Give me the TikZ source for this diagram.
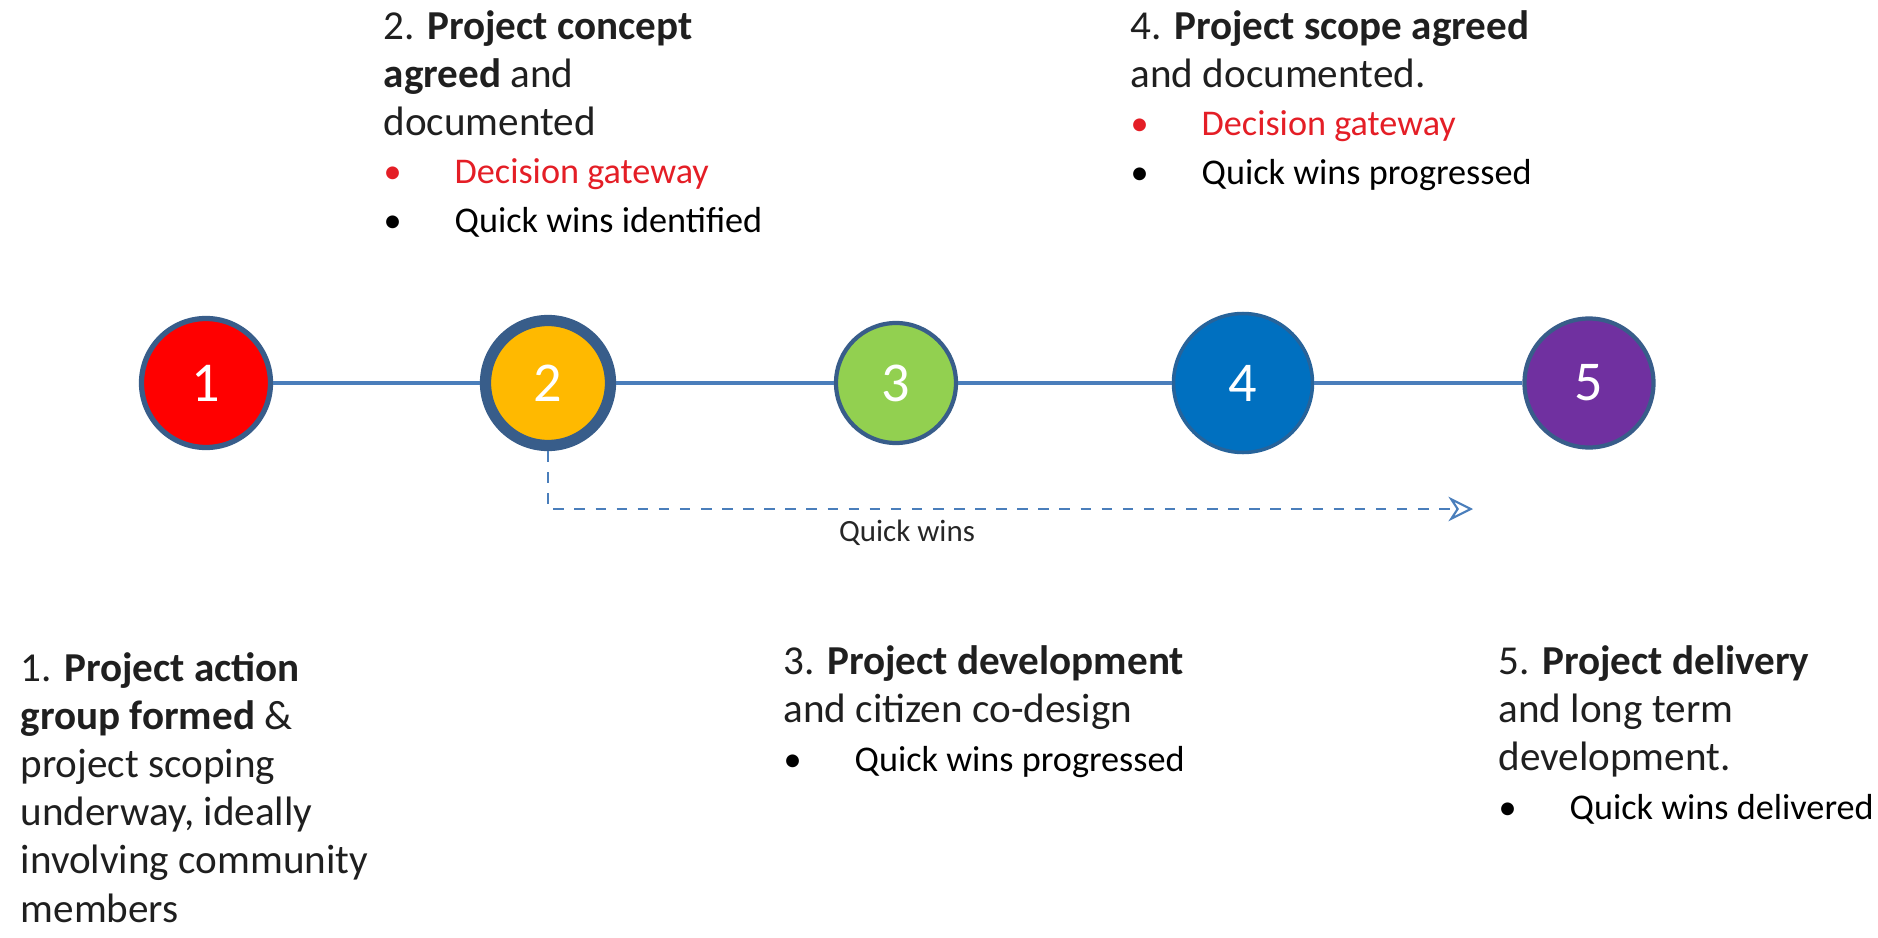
\documentclass[tikz,border=0pt]{standalone}
\usepackage{fontspec}
\setmainfont{Carlito}
\usepackage{tikz}
\usetikzlibrary{shapes,arrows.meta}
\definecolor{rimblue}{RGB}{56,93,138}
\definecolor{spineblue}{RGB}{74,126,187}
\definecolor{redfill}{RGB}{255,0,0}
\definecolor{ambfill}{RGB}{255,185,0}
\definecolor{greenfill}{RGB}{146,208,80}
\definecolor{bluefill}{RGB}{0,112,192}
\definecolor{purplefill}{RGB}{112,48,160}
\definecolor{gatered}{RGB}{228,30,38}
\tikzstyle{stage}=[circle,draw=rimblue,text=white,font=\fontsize{16}{19}\selectfont,inner sep=0pt]
\tikzstyle{spine}=[draw=spineblue,line width=1pt]
\tikzstyle{qwline}=[draw=spineblue,dashed,line width=0.6pt,-{Stealth[open,length=7pt,width=7pt]}]
\tikzstyle{desc}=[anchor=base west,align=left,inner sep=0pt,text=black!88,font=\fontsize{11.7}{13.7}\selectfont]
\newcommand{\tikzpicscale}{1}
\newcommand{\qwitem}[2]{{\fontsize{10.3}{12.8}\selectfont\color{#1}\makebox[7.1mm][l]{\textbullet}#2}}

\begin{document}
\begin{tikzpicture}[scale=\tikzpicscale]
    \useasboundingbox (0,0) rectangle (18.78,-9.38);

    \node[stage,fill=redfill,line width=1.5pt,minimum size=1.29cm] (S1) at (2.06,-3.83) {1};
    \node[stage,fill=ambfill,line width=3.2pt,minimum size=1.25cm] (S2) at (5.48,-3.83) {2};
    \node[stage,fill=greenfill,line width=1.2pt,minimum size=1.20cm] (S3) at (8.96,-3.83) {3};
    \node[stage,fill=bluefill,draw=rimblue!70!bluefill,line width=1pt,minimum size=1.39cm] (S4) at (12.43,-3.83) {4};
    \node[stage,fill=purplefill,line width=1.2pt,minimum size=1.29cm] (S5) at (15.89,-3.83) {5};

    \draw[spine] (S1) -- (S2);
    \draw[spine] (S2) -- (S3);
    \draw[spine] (S3) -- (S4);
    \draw[spine] (S4) -- (S5);

	 % quick wins run from stage 2 onwards
    \coordinate (QWend) at (14.73,-5.09);
    \draw[qwline] (S2.south) |- (QWend);
    \node[font=\fontsize{8.8}{10}\selectfont,text=black!85] (QWlabel) at (9.07,-5.33) {Quick wins};

	 % base anchor sits on the last line of each block
    \node[desc] (D1) at (0.20,-9.22) {1. \textbf{Project action}\\
        \textbf{group formed} \&\\ project scoping\\ underway, ideally\\
        involving community\\ members};
    \node[desc] (D2) at (3.83,-2.32) {2. \textbf{Project concept}\\
        \textbf{agreed} and\\ documented\\
        \qwitem{gatered}{Decision gateway}\\ \qwitem{black}{Quick wins identified}};
    \node[desc] (D3) at (7.83,-7.71) {3. \textbf{Project development}\\
        and citizen co-design\\ \qwitem{black}{Quick wins progressed}};
    \node[desc] (D4) at (11.30,-1.84) {4. \textbf{Project scope agreed}\\
        and documented.\\
        \qwitem{gatered}{Decision gateway}\\ \qwitem{black}{Quick wins progressed}};
    \node[desc] (D5) at (14.98,-8.19) {5. \textbf{Project delivery}\\
        and long term\\ development.\\ \qwitem{black}{Quick wins delivered}};
\end{tikzpicture}
\end{document}
